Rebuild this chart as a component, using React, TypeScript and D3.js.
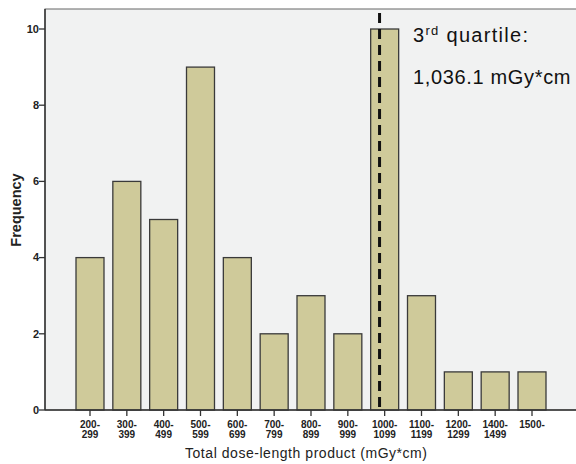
import React from "react";
import * as d3 from "d3";

const categories: string[][] = [
  ["200-", "299"], ["300-", "399"], ["400-", "499"], ["500-", "599"], ["600-", "699"],
  ["700-", "799"], ["800-", "899"], ["900-", "999"], ["1000-", "1099"], ["1100-", "1199"],
  ["1200-", "1299"], ["1400-", "1499"], ["1500-", ""],
];
const frequencies: number[] = [4, 6, 5, 9, 4, 2, 3, 2, 10, 3, 1, 1, 1];
const yTicks: number[] = [0, 2, 4, 6, 8, 10];
const quartileValue = 1036.1;
const quartileBinIndex = 8;
const quartileBinStart = 1000;
const quartileBinWidth = 100;

export default function App() {
  const W = 576, H = 464;
  const left = 45, top = 9, right = 580, bottom = 410;
  const keys = categories.map((c) => c.join(""));
  const x = d3.scaleBand<string>().domain(keys).range([71.58, 550.42]).paddingInner(0.24).paddingOuter(0.12);
  const y = d3.scaleLinear().domain([0, 10]).range([bottom, 29]);
  const step = x.step();
  const binLeft = (x(keys[quartileBinIndex]) as number) + x.bandwidth() / 2 - step / 2;
  const qx = binLeft + ((quartileValue - quartileBinStart) / quartileBinWidth) * step;
  const font = "'Liberation Sans', Arial, sans-serif";

  return (
    <div style={{ position: "fixed", left: 0, top: 0, width: W, height: H }}>
      <svg width={W} height={H} style={{ display: "block", background: "#ffffff" }}>
        <rect x={left} y={top} width={right - left} height={bottom - top} fill="#f1f2f2" stroke="#666" strokeWidth={1} />
        {frequencies.map((v, i) => (
          <rect
            key={i}
            x={x(keys[i])}
            y={y(v)}
            width={x.bandwidth()}
            height={bottom - y(v)}
            fill="#cfca9a"
            stroke="#3a3a3a"
            strokeWidth={1.3}
          />
        ))}
        <line x1={qx} x2={qx} y1={13} y2={bottom} stroke="#111" strokeWidth={3} strokeDasharray="10,6" />
        <line x1={left} x2={left} y1={top} y2={bottom} stroke="#333" strokeWidth={1.5} />
        <line x1={left} x2={right} y1={bottom} y2={bottom} stroke="#333" strokeWidth={1.5} />
        {yTicks.map((t) => (
          <g key={t}>
            <line x1={left - 6} x2={left} y1={y(t)} y2={y(t)} stroke="#333" strokeWidth={1.3} />
            <text x={left - 6} y={y(t)} dy="0.35em" textAnchor="end" fontFamily={font} fontWeight="bold" fontSize={11} fill="#222">
              {t}
            </text>
          </g>
        ))}
        {categories.map((c, i) => {
          const cx = (x(keys[i]) as number) + x.bandwidth() / 2;
          return (
            <g key={i}>
              <line x1={cx} x2={cx} y1={bottom} y2={bottom + 6} stroke="#333" strokeWidth={1.3} />
              <text x={cx} y={427.5} textAnchor="middle" fontFamily={font} fontWeight="bold" fontSize={10} fill="#222">
                {c[0]}
              </text>
              <text x={cx} y={438} textAnchor="middle" fontFamily={font} fontWeight="bold" fontSize={10} fill="#222">
                {c[1]}
              </text>
            </g>
          );
        })}
        <text x={306} y={458} textAnchor="middle" fontFamily={font} fontSize={14} fill="#222" textLength={242}>
          Total dose-length product (mGy*cm)
        </text>
        <text transform="translate(21,210) rotate(-90)" textAnchor="middle" fontFamily={font} fontWeight="bold" fontSize={14.5} fill="#222">
          Frequency
        </text>
        <text x={413} y={42} fontFamily={font} fontSize={20} fill="#111" letterSpacing={1.3}>
          3<tspan fontSize={13} dy={-7}>rd</tspan><tspan dy={7}> quartile:</tspan>
        </text>
        <text x={413} y={84} fontFamily={font} fontSize={20} fill="#111" textLength={157} letterSpacing={-0.5}>
          1,036.1 mGy*cm
        </text>
      </svg>
    </div>
  );
}
